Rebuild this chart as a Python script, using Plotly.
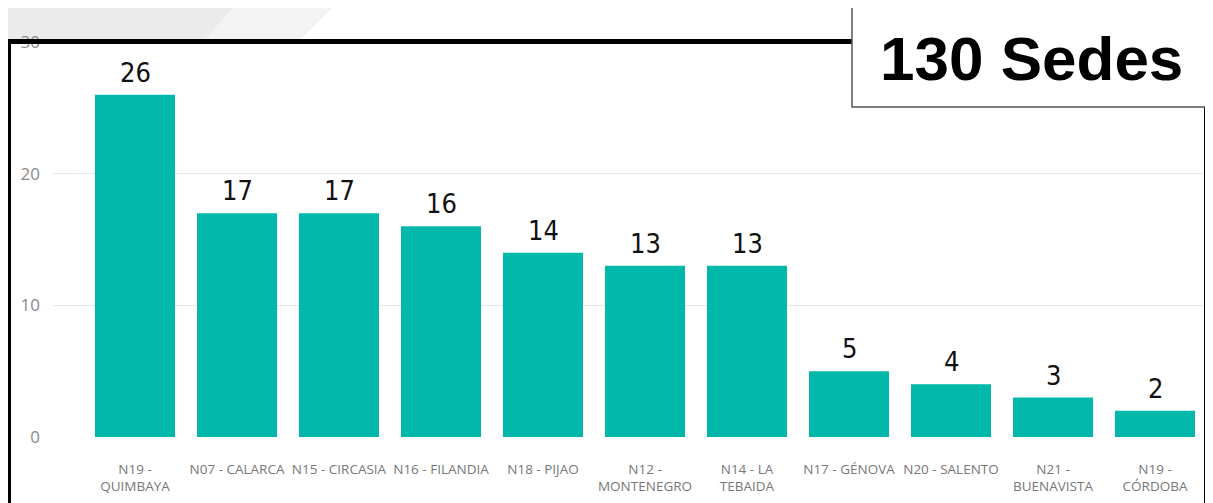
import plotly.graph_objects as go

categories = ["N19 -<br>QUIMBAYA", "N07 - CALARCA", "N15 - CIRCASIA", "N16 - FILANDIA",
              "N18 - PIJAO", "N12 -<br>MONTENEGRO", "N14 - LA<br>TEBAIDA", "N17 - GÉNOVA",
              "N20 - SALENTO", "N21 -<br>BUENAVISTA", "N19 -<br>CÓRDOBA"]
values = [26, 17, 17, 16, 14, 13, 13, 5, 4, 3, 2]
y_ticks = [0, 10, 20, 30]
total_label = "130 Sedes"

# page body has an 8px margin: the figure is laid out in reference pixels shifted by OFF
OFF = 8
W, H = 1213 - OFF, 503 - OFF
ML, MR, MT, MB = 53 - OFF, 7, 42 - OFF, 66
PW, PH = W - ML - MR, H - MT - MB


def px(x):
    return (x - OFF - ML) / PW


def py(y):
    return (H - MB - (y - OFF)) / PH


idx = list(range(len(categories)))

fig = go.Figure()
fig.add_trace(go.Bar(
    x=idx, y=values, marker=dict(color="#01B8AA", line=dict(width=0)),
    hoverinfo="skip", showlegend=False,
))

annotations = []
for i, v in zip(idx, values):
    annotations.append(dict(
        x=i, y=v, xref="x", yref="y", text=str(v), showarrow=False,
        yanchor="bottom", yshift=5,
        font=dict(family="DejaVu Sans Condensed, Liberation Sans Narrow, sans-serif",
                  size=27, color="#111111"),
    ))

annotations.append(dict(
    x=px(1031), y=py(58), xref="paper", yref="paper", text="<b>" + total_label + "</b>",
    showarrow=False, xanchor="center", yanchor="middle",
    font=dict(family="Liberation Sans, Arial, sans-serif", size=62, color="#000000"),
))

shapes = [
    # background pieces
    dict(type="path", xref="paper", yref="paper", layer="below",
         path=f"M {px(0)},{py(0)} L {px(240)},{py(0)} L {px(205)},{py(40)} L {px(0)},{py(40)} Z",
         fillcolor="#ebebeb", line=dict(width=0)),
    dict(type="path", xref="paper", yref="paper", layer="below",
         path=f"M {px(240)},{py(0)} L {px(340)},{py(0)} L {px(300)},{py(40)} L {px(205)},{py(40)} Z",
         fillcolor="#f3f3f3", line=dict(width=0)),
    dict(type="rect", xref="paper", yref="paper", layer="below",
         x0=px(1209), x1=px(1220), y0=py(107), y1=py(520), fillcolor="#ededed", line=dict(width=0)),
    # chart white area
    dict(type="rect", xref="paper", yref="paper", layer="below",
         x0=px(6), x1=px(1209), y0=py(41), y1=py(520), fillcolor="#ffffff", line=dict(width=0)),
    # black frame
    dict(type="rect", xref="paper", yref="paper", layer="above",
         x0=px(5), x1=px(11), y0=py(39), y1=py(520), fillcolor="#000000", line=dict(width=0)),
    dict(type="rect", xref="paper", yref="paper", layer="above",
         x0=px(5), x1=px(1210), y0=py(39), y1=py(44), fillcolor="#000000", line=dict(width=0)),
    dict(type="rect", xref="paper", yref="paper", layer="above",
         x0=px(1204), x1=px(1210), y0=py(39), y1=py(520), fillcolor="#000000", line=dict(width=0)),
    # total box
    dict(type="rect", xref="paper", yref="paper", layer="above",
         x0=px(852), x1=px(1225), y0=py(7), y1=py(107), fillcolor="#ffffff",
         line=dict(color="#555555", width=1.5)),
]

fig.update_layout(
    width=W, height=H,
    margin=dict(l=ML, r=MR, t=MT, b=MB, pad=0),
    paper_bgcolor="#ffffff", plot_bgcolor="rgba(0,0,0,0)",
    bargap=0.216,
    xaxis=dict(
        range=[-0.5 - 31 / 102, len(categories) - 0.5],
        tickmode="array", tickvals=idx, ticktext=categories,
        showgrid=False, zeroline=False, showline=False, ticks="",
        tickfont=dict(family="Open Sans, sans-serif", size=13.5, color="#777777"),
        ticklabelstandoff=22, fixedrange=True,
    ),
    yaxis=dict(
        range=[0, 30], tickmode="array", tickvals=y_ticks,
        showgrid=True, gridcolor="#e6e6e6", gridwidth=1,
        zeroline=False, showline=False, ticks="",
        tickfont=dict(family="Open Sans, sans-serif", size=17, color="#8a8a8a"),
        ticklabelstandoff=12, fixedrange=True,
    ),
    shapes=shapes,
    annotations=annotations,
    font=dict(family="Open Sans, sans-serif"),
)

fig.write_html("out.html")
